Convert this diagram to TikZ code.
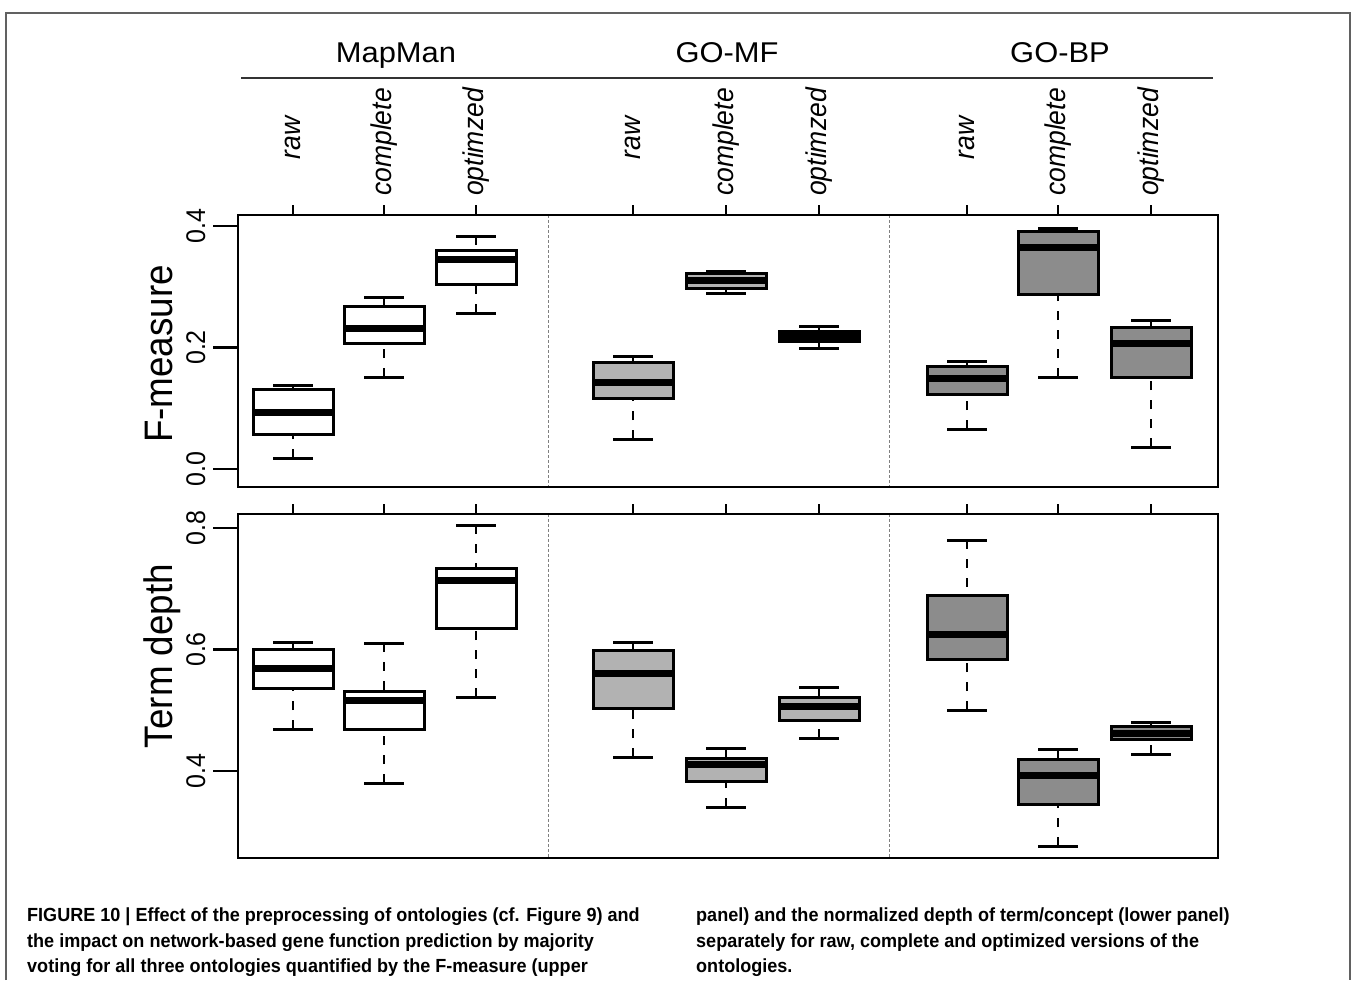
\documentclass[tikz,border=0pt]{standalone}
\usepackage{fontspec}
\setmainfont{Liberation Sans}
\newfontfamily\capfont[FakeStretch=0.95]{Liberation Sans}
\definecolor{mfgray}{gray}{0.70}
\definecolor{bpgray}{gray}{0.55}
\definecolor{framegray}{gray}{0.38}
\newcommand{\rstr}[1]{\scalebox{1}[1.08]{#1}}
\newcommand{\hstr}[1]{\scalebox{1.08}[1]{#1}}
\newcommand{\boxplt}[7]{%
  \draw[whisk] (#1,#2) -- (#1,#3);
  \draw[whisk] (#1,#6) -- (#1,#5);
  \draw[capl] (#1-20,#2) -- (#1+20,#2);
  \draw[capl] (#1-20,#6) -- (#1+20,#6);
  \fill[#7] (#1-40,#3) rectangle (#1+40,#5);
  \draw[medl] (#1-40,#4) -- (#1+40,#4);
  \draw[boxl] (#1-40,#3) rectangle (#1+40,#5);
}
\tikzset{
  whisk/.style={line width=2.5pt, dash pattern=on 9pt off 10pt},
  capl/.style={line width=3pt},
  boxl/.style={line width=3pt},
  medl/.style={line width=7pt},
  axisl/.style={line width=2pt},
  tickl/.style={line width=2.5pt},
  sepl/.style={line width=0.9pt, gray, dash pattern=on 3pt off 2pt},
  grp/.style={inner sep=0pt, anchor=base, font=\fontsize{28.6}{32}\selectfont},
  cat/.style={inner sep=0pt, rotate=90, font=\fontsize{26.5}{30}\selectfont\itshape},
  ytl/.style={inner sep=0pt, rotate=90, anchor=base, font=\fontsize{25}{30}\selectfont},
  ytitle/.style={inner sep=0pt, rotate=90, anchor=base, font=\fontsize{36.8}{40}\selectfont},
  capt/.style={inner sep=0pt, anchor=base west, font=\fontsize{19}{26}\capfont\bfseries},
}
\begin{document}
\begin{tikzpicture}[x=1pt,y=-1pt]
\useasboundingbox (0,0) rectangle (1354,980);
\fill[white] (0,0) rectangle (1354,980);
% outer frame
\draw[framegray, line width=1.5pt] (6,980) -- (6,13) -- (1350,13) -- (1350,980);

% group labels
\node[grp] (gmm) at (396,62) {\hstr{MapMan}};
\node[grp] (gmf) at (727,62) {\hstr{GO-MF}};
\node[grp] (gbp) at (1060,62) {\hstr{GO-BP}};
\draw[line width=2pt, black!80] (241,77.5) coordinate (gl) -- (1213,77.5) coordinate (gr);

% category labels
\foreach \x/\g in {293/a,633/b,967/c}{
  \node[cat] (raw\g) at (\x,138) {\rstr{raw}};}
\foreach \x/\g in {384/a,726/b,1058/c}{
  \node[cat] (com\g) at (\x,142) {\rstr{complete}};}
\foreach \x/\g in {476/a,819/b,1151/c}{
  \node[cat] (opt\g) at (\x,142) {\rstr{optimzed}};}

% separators
\draw[sepl] (548,215) -- (548,487);
\draw[sepl] (889,215) -- (889,487);
\draw[sepl] (548,514) -- (548,858);
\draw[sepl] (889,514) -- (889,858);

% top ticks
\foreach \x in {293,384,476,633,726,819,967,1058,1151}{
  \draw[tickl] (\x,205) -- (\x,215);
  \draw[tickl] (\x,504) -- (\x,514);
}
% y ticks
\foreach \y in {226,347.5,469,528,649.5,771}{
  \draw[tickl] (213,\y) -- (238,\y);
}
\node[ytl] (t04) at (205,226) {\rstr{0.4}};
\node[ytl] (t02) at (205,347.5) {\rstr{0.2}};
\node[ytl] (t00) at (205,469) {\rstr{0.0}};
\node[ytl] (b08) at (205,528) {\rstr{0.8}};
\node[ytl] (b06) at (205,649.5) {\rstr{0.6}};
\node[ytl] (b04) at (205,771) {\rstr{0.4}};

\node[ytitle] (yt1) at (172,354) {\rstr{F-measure}};
\node[ytitle] (yt2) at (172,656) {\rstr{Term depth}};

% top panel data: x, upper cap, box top, median, box bottom, lower cap, fill
\boxplt{293}{385}{389}{412}{434}{458}{white}
\boxplt{384}{297}{306}{328}{343}{377}{white}
\boxplt{476}{236}{250}{259}{284}{313}{white}
\boxplt{633}{356}{362}{382}{398}{439}{mfgray}
\boxplt{726}{271}{273}{280}{288}{293}{mfgray}
\boxplt{819}{326}{331}{336}{341}{348}{mfgray}
\boxplt{967}{361}{366}{378}{394}{429}{bpgray}
\boxplt{1058}{228}{231}{247}{294}{377}{bpgray}
\boxplt{1151}{320}{327}{343}{377}{447}{bpgray}

% bottom panel data
\boxplt{293}{642}{649}{668}{688}{729}{white}
\boxplt{384}{643}{691}{700}{729}{783}{white}
\boxplt{476}{525}{568}{580}{628}{697}{white}
\boxplt{633}{642}{650}{673}{708}{757}{mfgray}
\boxplt{726}{748}{758}{764}{781}{807}{mfgray}
\boxplt{819}{687}{697}{706}{720}{738}{mfgray}
\boxplt{967}{540}{595}{634}{659}{710}{bpgray}
\boxplt{1058}{749}{759}{775}{804}{846}{bpgray}
\boxplt{1151}{722}{726}{733}{739}{754}{bpgray}

% panel frames
\draw[axisl] (238,215) rectangle (1218,487);
\draw[axisl] (238,514) rectangle (1218,858);

% caption
\node[capt] (c1) at (27,921) {FIGURE 10 | Effect of the preprocessing of ontologies (cf. Figure 9) and};
\node[capt] (c2) at (27,947) {the impact on network-based gene function prediction by majority};
\node[capt] (c3) at (27,972) {voting for all three ontologies quantified by the F-measure (upper};
\node[capt] (c4) at (696,921) {panel) and the normalized depth of term/concept (lower panel)};
\node[capt] (c5) at (696,947) {separately for raw, complete and optimized versions of the};
\node[capt] (c6) at (696,972) {ontologies.};
\end{tikzpicture}
\end{document}
